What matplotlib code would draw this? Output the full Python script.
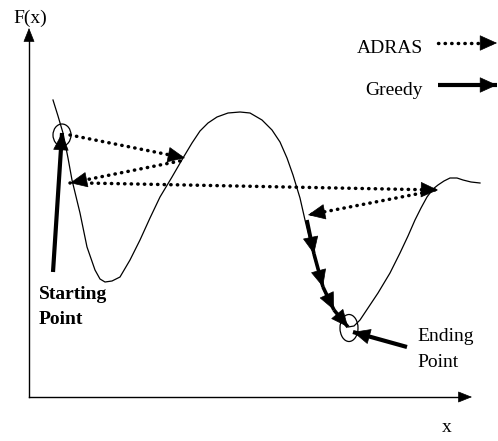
import matplotlib.pyplot as plt
import numpy as np
from matplotlib.patches import Ellipse

# everything is in picture pixels (x right, y down)
curve_x = [53, 58, 63, 68, 72, 80, 87, 95, 100, 105, 112, 120, 130, 140, 150, 160, 172, 183, 192, 200,
           208, 217, 228, 240, 250, 262, 272, 280, 287, 293, 300, 305, 309, 313, 318, 322, 328, 334, 341,
           348, 354, 360, 368, 378, 390, 400, 408, 415, 421, 427, 433, 438, 444, 450, 457, 463, 471, 480]
curve_y = [100, 116, 133, 158, 180, 213, 247, 270, 279, 282, 281, 277, 260, 240, 218, 197, 177, 158, 143, 131,
           123, 117, 113, 112, 113, 120, 130, 142, 158, 175, 198, 220, 237, 253, 270, 286, 299, 310, 320,
           327, 326, 320, 308, 293, 273, 253, 236, 220, 208, 197, 189, 185, 181, 178, 178, 180, 182, 183]

start_circle = (62, 135, 18, 22)
end_circle = (349, 328, 18, 27)

adras_moves = [((70, 135), (185, 158)),
               ((180, 161), (70, 183)),
               ((85, 183), (438, 190)),
               ((422, 193), (308, 215))]
greedy_path = [(307, 220), (314, 254), (323, 287), (334, 310), (348, 327)]
start_pointer = ((53, 272), (62, 133))
end_pointer = ((407, 347), (353, 332))

legend_items = [("ADRAS", 43, True), ("Greedy", 85, False)]


def head(ax, p0, p1, hl=11.5, hw=5.2):
    d = np.array(p1, float) - np.array(p0, float)
    u = d / np.hypot(*d)
    back = np.array(p1) - u * hl * 100 / 72
    ax.annotate("", xy=p1, xytext=tuple(back),
                arrowprops=dict(arrowstyle=f"-|>,head_length={hl},head_width={hw}", mutation_scale=1,
                                color="k", lw=0.5, shrinkA=0, shrinkB=0))


def arrow(ax, p0, p1, dotted=False, lw=2.6):
    if dotted:
        ax.plot([p0[0], p1[0]], [p0[1], p1[1]], color="k", lw=2.5,
                linestyle=(0, (0.1, 1.8)), dash_capstyle="round")
    else:
        ax.plot([p0[0], p1[0]], [p0[1], p1[1]], color="k", lw=lw, solid_capstyle="butt")
    head(ax, p0, p1)


fig = plt.figure(figsize=(4.98, 4.41), dpi=100)
ax = fig.add_axes([0, 0, 1, 1])
ax.set_xlim(0, 498)
ax.set_ylim(441, 0)
ax.axis("off")
serif = "Liberation Serif"
fs = 14

# axes
ax.plot([29, 29], [397, 40], color="k", lw=1.0)
head(ax, (29, 397), (29, 28), hl=9, hw=3.6)
ax.plot([29, 460], [397, 397], color="k", lw=1.0)
head(ax, (29, 397), (472, 397), hl=9, hw=3.6)
ax.text(13, 23, "F(x)", fontsize=fs, family=serif, va="baseline")
ax.text(447, 432, "x", fontsize=fs, family=serif, ha="center", va="baseline")

ax.plot(curve_x, curve_y, color="k", lw=0.9)

for cx, cy, w, h in (start_circle, end_circle):
    ax.add_patch(Ellipse((cx, cy), w, h, fill=False, lw=0.9, ec="k"))

for p0, p1 in adras_moves:
    arrow(ax, p0, p1, dotted=True)

for p0, p1 in zip(greedy_path[:-1], greedy_path[1:]):
    arrow(ax, p0, p1, lw=2.6)
arrow(ax, *start_pointer, lw=3)
arrow(ax, *end_pointer, lw=3)

ax.text(39, 299, "Starting", fontsize=fs, family=serif, weight="bold", va="baseline")
ax.text(39, 324, "Point", fontsize=fs, family=serif, weight="bold", va="baseline")
ax.text(417, 341, "Ending", fontsize=fs, family=serif, va="baseline")
ax.text(417, 367, "Point", fontsize=fs, family=serif, va="baseline")

for label, y, dotted in legend_items:
    ax.text(423, y + 10, label, fontsize=fs, family=serif, ha="right", va="baseline")
    arrow(ax, (438, y), (497, y), dotted=dotted, lw=3)

fig.savefig("out.png", dpi=100)
